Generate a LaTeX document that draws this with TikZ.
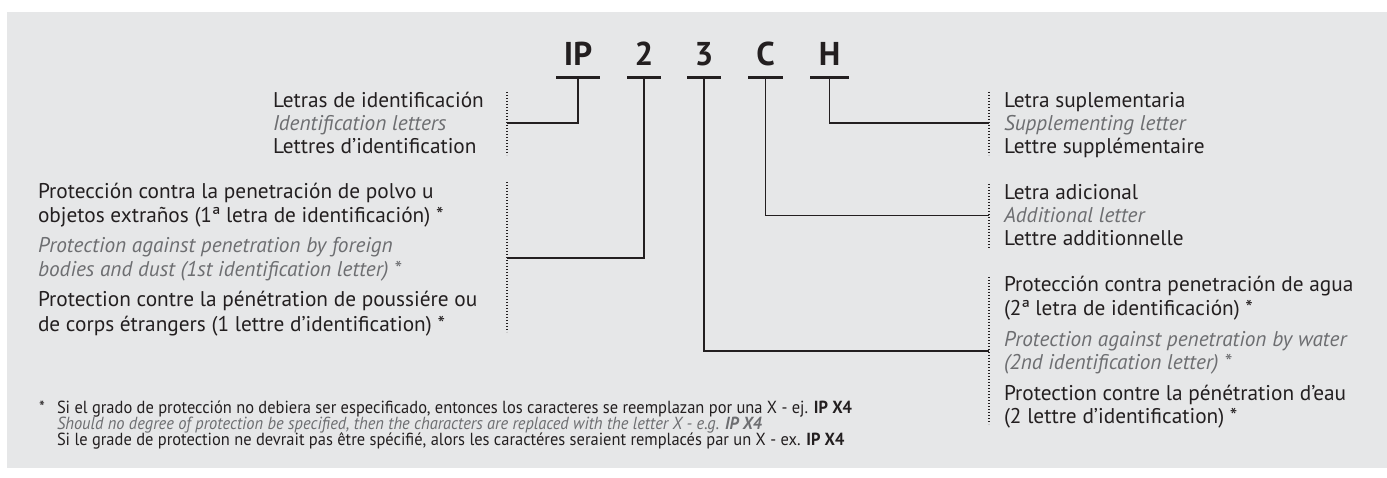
\documentclass[tikz,border=0pt]{standalone}
\usepackage{fontspec}
\setmainfont{PT Sans}
\newfontfamily\condfont[FakeStretch=0.94]{PT Sans}
\definecolor{ink}{HTML}{231F20}
\definecolor{grayink}{HTML}{6D6E71}
\definecolor{bg}{HTML}{E6E7E8}
\begin{document}
\begin{tikzpicture}[x=1pt,y=-1pt,
  txt/.style={anchor=base west, inner sep=0pt, outer sep=0pt, text=ink, font=\fontsize{21.3}{24}\selectfont},
  itx/.style={txt, text=grayink, font=\fontsize{21.3}{24}\selectfont\itshape},
  fn/.style={anchor=base west, inner sep=0pt, outer sep=0pt, text=ink, font=\fontsize{17.5}{19}\condfont},
  fni/.style={fn, text=grayink, font=\fontsize{17.5}{19}\condfont\itshape},
  big/.style={anchor=base, inner sep=0pt, text=ink, font=\fontsize{33}{36}\selectfont\bfseries},
  uline/.style={draw=ink, line width=3pt},
  conn/.style={draw=ink, line width=1.3pt},
  dotline/.style={draw=ink, line width=1.2pt, dash pattern=on 1.2pt off 1.8pt}]
\useasboundingbox (0,0) rectangle (1387,478);
\fill[bg] (7,12) rectangle (1387,468);

% code letters
\node[big] (IP) at (578,66) {IP};
\node[big] (n2) at (644,66) {2};
\node[big] (n3) at (704,66) {3};
\node[big] (C)  at (765.5,66) {C};
\node[big] (H)  at (829.5,66) {H};

\coordinate (uIP) at (578,77.7);
\coordinate (u2) at (644,77.7);
\coordinate (u3) at (704,77.7);
\coordinate (uC) at (765.5,77.7);
\coordinate (uH) at (829.5,77.7);
\draw[uline] ([xshift=-22pt]uIP) -- ([xshift=22pt]uIP);
\draw[uline] ([xshift=-17pt]u2) -- ([xshift=17pt]u2);
\draw[uline] ([xshift=-17pt]u3) -- ([xshift=17pt]u3);
\draw[uline] ([xshift=-17.5pt]uC) -- ([xshift=17.5pt]uC);
\draw[uline] ([xshift=-19.5pt]uH) -- ([xshift=19.5pt]uH);

% junction coordinates on dotted lines
\coordinate (jIP) at (507,123);
\coordinate (j2) at (507,258);
\coordinate (jH) at (989,123);
\coordinate (jC) at (989,215.5);
\coordinate (j3) at (989,351);

\draw[conn] (uIP) |- (jIP);
\draw[conn] (u2) |- (j2);
\draw[conn] (u3) |- (j3);
\draw[conn] (uC) |- (jC);
\draw[conn] (uH) |- (jH);

% dotted brackets
\draw[dotline] (507,92) -- (507,155);
\draw[dotline] (507,182) -- (507,332);
\draw[dotline] (989,92) -- (989,155);
\draw[dotline] (989,184) -- (989,248);
\draw[dotline] (989,277) -- (989,424);

% block IP
\node[txt] (a1) at (273,107.5) {Letras de identificación};
\node[itx] (a2) at (273,130.5) {Identification letters};
\node[txt] (a3) at (273,153.5) {Lettres d’identification};

% block 2
\node[txt] (b1) at (38,199) {Protección contra la penetración de polvo u};
\node[txt] (b2) at (38,223) {objetos extraños (1ª letra de identificación) *};
\node[itx] (b3) at (38,253) {Protection against penetration by foreign};
\node[itx] (b4) at (38,277) {bodies and dust (1st identification letter) *};
\node[txt] (b5) at (38,307) {Protection contre la pénétration de poussiére ou};
\node[txt] (b6) at (38,331) {de corps étrangers (1 lettre d’identification) *};

% block H
\node[txt] (c1) at (1004,107.5) {Letra suplementaria};
\node[itx] (c2) at (1004,130.5) {Supplementing letter};
\node[txt] (c3) at (1004,153.5) {Lettre supplémentaire};

% block C
\node[txt] (d1) at (1004,200) {Letra adicional};
\node[itx] (d2) at (1004,223) {Additional letter};
\node[txt] (d3) at (1004,246) {Lettre additionnelle};

% block 3
\node[txt] (e1) at (1004,292) {Protección contra penetración de agua};
\node[txt] (e2) at (1004,316) {(2ª letra de identificación) *};
\node[itx] (e3) at (1004,346) {Protection against penetration by water};
\node[itx] (e4) at (1004,370) {(2nd identification letter) *};
\node[txt] (e5) at (1004,400) {Protection contre la pénétration d’eau};
\node[txt] (e6) at (1004,423.5) {(2 lettre d’identification) *};

% footnote
\node[fn] (f0) at (39,413) {*};
\node[fn] (f1) at (57,413) {Si el grado de protección no debiera ser especificado, entonces los caracteres se reemplazan por una X - ej. \textbf{IP X4}};
\node[fni] (f2) at (57,429) {Should no degree of protection be specified, then the characters are replaced with the letter X - e.g. \textbf{IP X4}};
\node[fn] (f3) at (57,445) {Si le grade de protection ne devrait pas être spécifié, alors les caractéres seraient remplacés par un X - ex. \textbf{IP X4}};
\end{tikzpicture}
\end{document}
